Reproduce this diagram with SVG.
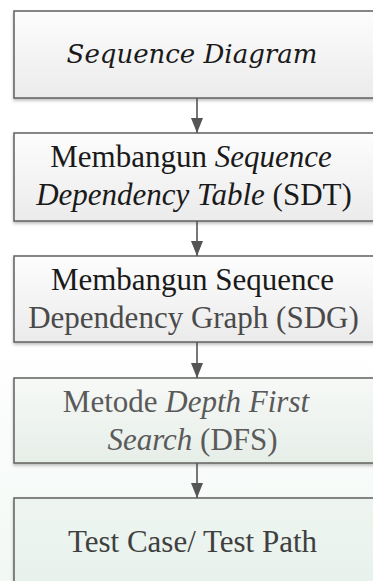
<svg xmlns="http://www.w3.org/2000/svg" width="373" height="581" viewBox="0 0 373 581">
  <defs>
    <linearGradient id="gGray" x1="0" y1="0" x2="0" y2="1">
      <stop offset="0" stop-color="#fdfdfd"/>
      <stop offset="1" stop-color="#ebebeb"/>
    </linearGradient>
    <linearGradient id="gGreen1" x1="0" y1="0" x2="0" y2="1">
      <stop offset="0" stop-color="#f7f9f7"/>
      <stop offset="1" stop-color="#e6eee8"/>
    </linearGradient>
    <linearGradient id="gGreen2" x1="0" y1="0" x2="0" y2="1">
      <stop offset="0" stop-color="#eef5f0"/>
      <stop offset="1" stop-color="#e6f1eb"/>
    </linearGradient>
    <linearGradient id="gBg" x1="0" y1="0" x2="0" y2="1">
      <stop offset="0" stop-color="#ffffff"/>
      <stop offset="1" stop-color="#f2f8f4"/>
    </linearGradient>
    <filter id="shadow" x="-5%" y="-10%" width="110%" height="130%">
      <feDropShadow dx="0" dy="2" stdDeviation="1.5" flood-color="#000" flood-opacity="0.25"/>
    </filter>
    <marker id="arrow" markerWidth="15" markerHeight="12" refX="15" refY="6" orient="auto" markerUnits="userSpaceOnUse" viewBox="0 0 15 12">
      <path d="M0,0 L15,6 L0,12 Z" fill="#555"/>
    </marker>
    <style>
      .box { stroke: #606060; stroke-width: 1.5; filter: url(#shadow); }
      .t { font-size: 31px; text-anchor: middle; }
      .i { font-style: italic; }
      .conn { stroke: #555; stroke-width: 1.6; fill: none; marker-end: url(#arrow); }
    </style>
  </defs>
  <rect x="0" y="0" width="373" height="581" fill="#ffffff"/>
  <rect x="0" y="340" width="373" height="241" fill="url(#gBg)"/>

  <g id="node-sequence-diagram">
    <rect class="box" x="14" y="11" width="380" height="87" fill="url(#gGray)"/>
    <text class="t i" x="192" y="63" fill="#1a1a1a" font-family="DejaVu Serif" style="font-size:26px">Sequence Diagram</text>
  </g>

  <g id="node-sdt">
    <rect class="box" x="14" y="133" width="380" height="88" fill="url(#gGray)"/>
    <text class="t" x="191" y="167" fill="#1a1a1a" font-family="Times New Roman">Membangun <tspan class="i">Sequence</tspan></text>
    <text class="t" x="194" y="205" fill="#1a1a1a" font-family="serif"><tspan class="i">Dependency Table</tspan> (SDT)</text>
  </g>

  <g id="node-sdg">
    <rect class="box" x="14" y="256" width="380" height="86" fill="url(#gGray)"/>
    <text class="t" x="192.5" y="290" fill="#1a1a1a" font-family="'Liberation Serif'">Membangun Sequence</text>
    <text class="t" x="193.5" y="328" fill="#4a4a4a" font-family="Liberation Serif">Dependency Graph (SDG)</text>
  </g>

  <g id="node-dfs">
    <rect class="box" x="14" y="378" width="380" height="85" fill="url(#gGreen1)"/>
    <text class="t" x="186" y="412" fill="#5a5a5a" font-family="Liberation Serif">Metode <tspan class="i">Depth First</tspan></text>
    <text class="t" x="192.5" y="450" fill="#5a5a5a" style="font-family:'Liberation Serif',serif"><tspan class="i">Search</tspan> (DFS)</text>
  </g>

  <g id="node-test-case">
    <rect class="box" x="14" y="498" width="380" height="110" fill="url(#gGreen2)"/>
    <text class="t" x="192.5" y="552" fill="#3f3f3f" font-family="Liberation Serif, serif">Test Case/ Test Path</text>
  </g>

  <g id="connectors">
    <line class="conn" x1="197" y1="98" x2="197" y2="133"/>
    <line class="conn" x1="197" y1="221" x2="197" y2="256"/>
    <line class="conn" x1="197" y1="342" x2="197" y2="378"/>
    <line class="conn" x1="197" y1="463" x2="197" y2="498"/>
  </g>
</svg>
